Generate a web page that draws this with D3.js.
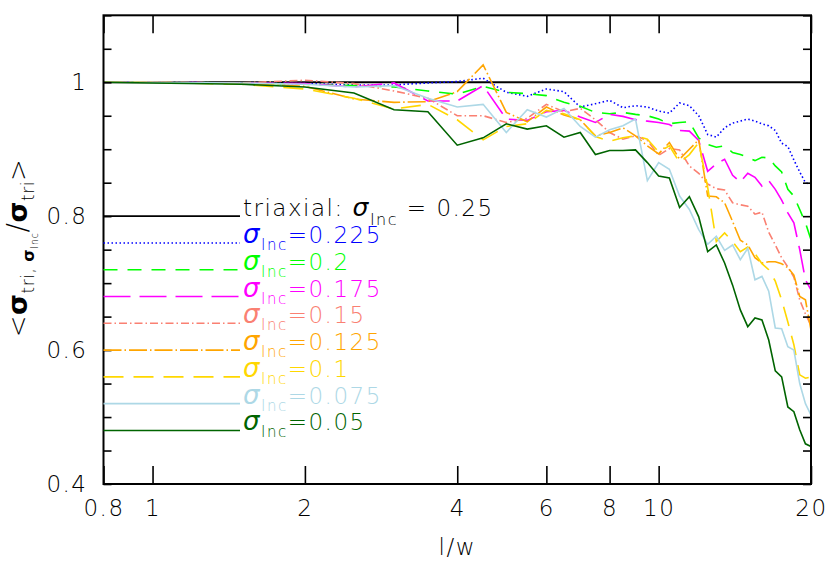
<!DOCTYPE html>
<html><head><meta charset="utf-8">
<script src="https://cdn.jsdelivr.net/npm/d3@7/dist/d3.min.js"></script>
<style>
body{margin:0;background:#fff;}
svg text{font-family:"DejaVu Sans",sans-serif;font-weight:200;letter-spacing:1.5px;}
</style></head><body>
<svg id="c" width="830" height="573"></svg>
<script>
// ---------- data ----------
const xValues = [0.8,1,1.5,2,2.5,3,3.5,4,4.5,5,5.5,6,6.5,7,7.5,8,8.5,9,9.5,10,10.5,11,11.5,12,12.5,13,13.5,14,14.5,15,15.5,16,16.5,17,17.5,18,18.5,19,19.5,20];
const xTickValues = [0.8,1,2,4,6,8,10,20];
const yTickValues = [0.4,0.45,0.5,0.55,0.6,0.65,0.7,0.75,0.8,0.85,0.9,0.95,1,1.05,1.1];
const yLabelValues = [0.4,0.6,0.8,1];
const triaxialValue = 1;
const triaxialLabel = "0.25";
const sigmaLabels = ["0.225","0.2","0.175","0.15","0.125","0.1","0.075","0.05"];

const s0225 = [1.000,1.000,0.999,0.998,0.996,0.996,0.999,1.001,1.006,0.985,0.979,0.990,0.986,0.963,0.968,0.973,0.962,0.965,0.963,0.957,0.954,0.969,0.965,0.950,0.922,0.918,0.932,0.939,0.942,0.945,0.942,0.938,0.935,0.928,0.909,0.904,0.884,0.866,0.850,0.847];
const s0200 = [1.000,1.000,0.999,0.997,0.995,0.993,0.987,0.982,0.994,0.985,0.983,0.980,0.970,0.964,0.955,0.953,0.955,0.952,0.950,0.945,0.938,0.940,0.941,0.917,0.907,0.903,0.905,0.895,0.892,0.888,0.883,0.888,0.887,0.875,0.866,0.840,0.830,0.810,0.790,0.765];
const s0175 = [1.000,1.000,0.999,0.998,0.993,0.999,0.972,0.972,0.995,0.945,0.943,0.956,0.958,0.948,0.940,0.952,0.949,0.944,0.942,0.940,0.937,0.928,0.927,0.913,0.867,0.878,0.885,0.861,0.851,0.864,0.858,0.845,0.853,0.840,0.824,0.805,0.790,0.750,0.705,0.690];
const s0150 = [1.000,1.000,0.999,1.003,0.998,0.987,0.976,0.950,0.950,0.940,0.946,0.967,0.956,0.961,0.944,0.925,0.915,0.920,0.913,0.891,0.901,0.899,0.875,0.864,0.848,0.841,0.839,0.820,0.817,0.815,0.803,0.806,0.776,0.757,0.738,0.724,0.709,0.675,0.654,0.637];
const s0125 = [1.000,1.000,0.998,0.994,0.975,0.970,0.971,0.986,1.026,0.955,0.941,0.963,0.951,0.944,0.920,0.925,0.932,0.920,0.905,0.893,0.910,0.885,0.900,0.914,0.830,0.829,0.820,0.792,0.764,0.757,0.738,0.730,0.732,0.732,0.729,0.723,0.712,0.680,0.675,0.630];
const s0100 = [1.000,1.000,0.997,0.990,0.976,0.960,0.967,0.944,0.914,0.934,0.938,0.958,0.953,0.944,0.919,0.912,0.917,0.920,0.915,0.896,0.905,0.880,0.892,0.910,0.843,0.762,0.775,0.762,0.747,0.754,0.744,0.729,0.720,0.703,0.675,0.642,0.608,0.563,0.558,0.560];
const s0075 = [1.000,1.000,0.999,0.997,0.993,0.995,0.976,0.963,0.967,0.925,0.959,0.948,0.961,0.934,0.918,0.929,0.935,0.945,0.853,0.880,0.870,0.830,0.810,0.780,0.758,0.770,0.749,0.757,0.735,0.752,0.705,0.710,0.688,0.633,0.632,0.605,0.600,0.550,0.520,0.503];
const s0050 = [1.000,0.999,0.997,0.993,0.984,0.959,0.956,0.906,0.917,0.938,0.930,0.935,0.918,0.925,0.892,0.898,0.898,0.899,0.880,0.860,0.857,0.813,0.829,0.799,0.747,0.757,0.730,0.697,0.660,0.635,0.648,0.645,0.615,0.569,0.560,0.515,0.508,0.481,0.460,0.456];

const seriesValues = [s0225,s0200,s0175,s0150,s0125,s0100,s0075,s0050];
const seriesColors = ["#0000ff","#00ff00","#ff00ff","#fa8072","#ffa500","#ffd700","#add8e6","#006400"];
const seriesDash = ["1.5,2.5","14,10","27,9","8,3,1.5,3","18,3,1.5,3","20,10",null,null];

// ---------- layout ----------
const svg = d3.select("#c");
const L = 103.5, R = 811, T = 15.3, B = 484;
const x = d3.scaleLog().domain([0.8,20]).range([L,R]);
const y = d3.scaleLinear().domain([0.4,1.1]).range([B,T]);

const line = d3.line().x((d,i)=>x(xValues[i])).y(d=>y(d));

// data lines
const plot = svg.append("g");
plot.append("line").attr("x1",x(0.8)).attr("x2",x(20)).attr("y1",y(triaxialValue)).attr("y2",y(triaxialValue))
  .attr("stroke","#000").attr("stroke-width",2);
seriesValues.forEach((vals,k)=>{
  plot.append("path").datum(vals).attr("d",line).attr("fill","none")
    .attr("stroke",seriesColors[k]).attr("stroke-width",1.6)
    .attr("stroke-dasharray",seriesDash[k]);
});

// axes
function styleAxis(g){
  g.selectAll(".domain").remove();
  g.selectAll(".tick line").attr("stroke","#000").attr("stroke-width",1.6);
  g.selectAll("text").attr("font-size",23).attr("fill","#000").attr("font-family","DejaVu Sans").attr("font-weight",200);
}
svg.append("g").attr("transform",`translate(0,${B})`)
  .call(d3.axisBottom(x).tickValues(xTickValues).tickSize(-18).tickPadding(16).tickFormat(d=>String(d)))
  .call(styleAxis);
svg.append("g").attr("transform",`translate(0,${T})`)
  .call(d3.axisTop(x).tickValues(xTickValues).tickSize(-18).tickFormat(""))
  .call(styleAxis);
svg.append("g").attr("transform",`translate(${L},0)`)
  .call(d3.axisLeft(y).tickValues(yTickValues).tickSize(-8).tickFormat(""))
  .call(styleAxis);
svg.append("g").attr("transform",`translate(${L},0)`)
  .call(d3.axisLeft(y).tickValues(yLabelValues).tickSize(0).tickPadding(16).tickFormat(d=>String(d)))
  .call(styleAxis);
svg.append("g").attr("transform",`translate(${R},0)`)
  .call(d3.axisRight(y).tickValues(yTickValues).tickSize(-8).tickFormat(""))
  .call(styleAxis);

// frame
svg.append("rect").attr("x",L).attr("y",T).attr("width",R-L).attr("height",B-T)
  .attr("fill","none").attr("stroke","#000").attr("stroke-width",2);

// axis titles
svg.append("text").attr("x",(L+R)/2).attr("y",555).attr("text-anchor","middle")
  .attr("font-size",23).attr("fill","#000").text("l/w");

const yl = svg.append("text").attr("transform","translate(27,248) rotate(-90)")
  .attr("text-anchor","middle").attr("fill","#000").attr("font-size",26).style("letter-spacing","0.5px");
yl.append("tspan").text("<");
yl.append("tspan").attr("font-size",27).attr("font-weight",700).text("σ");
yl.append("tspan").attr("font-size",17).attr("dy",7).text("tri, ");
yl.append("tspan").attr("font-size",16).attr("font-weight",700).text("σ");
yl.append("tspan").attr("font-size",10).attr("dy",4).text("Inc");
yl.append("tspan").attr("font-size",28).attr("dy",-11).text("/");
yl.append("tspan").attr("font-size",27).attr("font-weight",700).text("σ");
yl.append("tspan").attr("font-size",17).attr("dy",7).text("tri");
yl.append("tspan").attr("font-size",26).attr("dy",-7).text(">");

// legend
const legX1 = L, legX2 = 240, legTextX = 243;
const legY = k => y(0.8 - 0.04*k);
const lg = svg.append("g");
lg.append("line").attr("x1",legX1).attr("x2",legX2).attr("y1",legY(0)).attr("y2",legY(0))
  .attr("stroke","#000").attr("stroke-width",1.6);
const t0 = lg.append("text").attr("x",legTextX).attr("y",legY(0)).attr("font-size",23).attr("fill","#000")
  .attr("xml:space","preserve").style("white-space","pre");
t0.append("tspan").text("triaxial: ");
t0.append("tspan").attr("font-style","italic").attr("font-weight",400).attr("font-size",25).text("σ");
t0.append("tspan").attr("font-size",16).attr("dy",8.5).text("Inc");
t0.append("tspan").attr("dy",-8.5).text(" = " + triaxialLabel);

sigmaLabels.forEach((lab,k)=>{
  const yy = legY(k+1);
  lg.append("line").attr("x1",legX1).attr("x2",legX2).attr("y1",yy).attr("y2",yy)
    .attr("stroke",seriesColors[k]).attr("stroke-width",1.6).attr("stroke-dasharray",seriesDash[k]);
  const t = lg.append("text").attr("x",legTextX).attr("y",yy).attr("font-size",23).attr("fill",seriesColors[k]);
  t.append("tspan").attr("font-style","italic").attr("font-weight",400).attr("font-size",26).text("σ");
  t.append("tspan").attr("font-size",15).attr("dy",7).text("Inc");
  t.append("tspan").attr("dy",-7).text("=" + lab);
});
</script>
</body></html>
